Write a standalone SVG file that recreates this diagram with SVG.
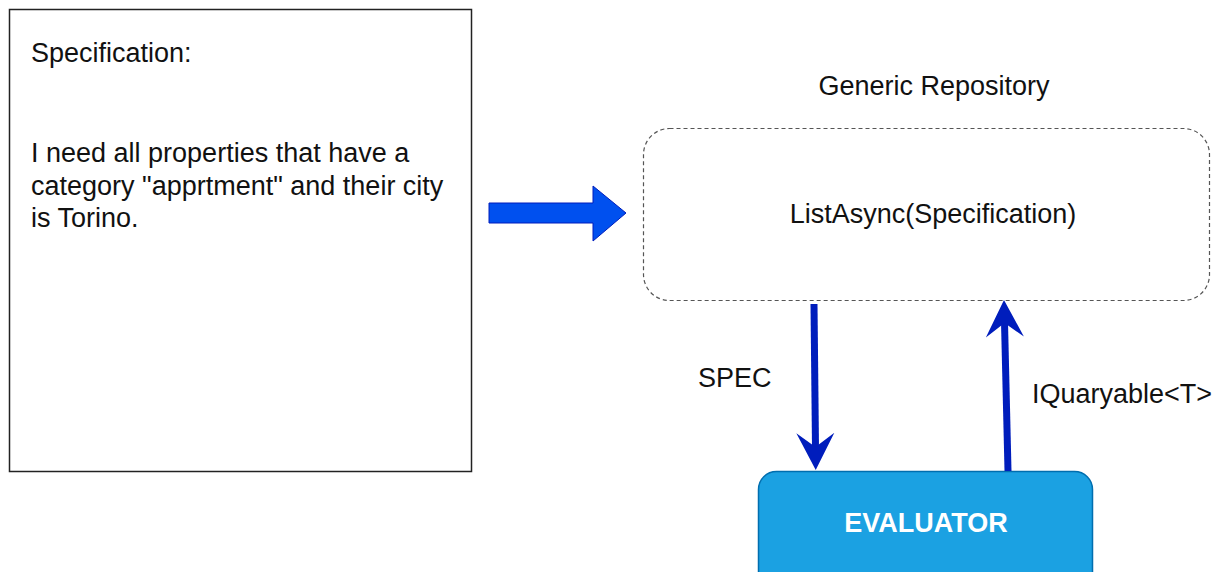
<svg xmlns="http://www.w3.org/2000/svg" width="1222" height="572" viewBox="0 0 1222 572">
  <style>
    .txt { font-family: "Liberation Sans", Arial, Helvetica, sans-serif; font-size: 27px; fill: #111; }
    .mid { text-anchor: middle; }
    .bold { font-weight: bold; fill: #ffffff; }
    .flow { stroke: #001DBC; stroke-width: 7; fill: none; }
  </style>
  <defs>
    <!-- classic arrowhead; the line ends at the notch -->
    <marker id="head" markerUnits="userSpaceOnUse" markerWidth="40" markerHeight="40" viewBox="0 0 40 40" refX="16" refY="20" orient="auto">
      <path d="M38,20 L1,1 L15,20 L1,39 Z" fill="#001DBC"/>
    </marker>
  </defs>

  <rect width="1222" height="572" fill="#ffffff"/>

  <!-- Specification note -->
  <g id="spec-note">
    <rect x="9.5" y="9.5" width="462" height="462" fill="#ffffff" stroke="#222" stroke-width="1.5"/>
    <text class="txt" x="31" y="62">Specification:</text>
    <text class="txt" x="31" y="162">I need all properties that have a</text>
    <text class="txt" x="31" y="194.5">category "apprtment" and their city</text>
    <text class="txt" x="31" y="227">is Torino.</text>
  </g>

  <!-- Generic repository -->
  <g id="repository">
    <text class="txt mid" x="934" y="95">Generic Repository</text>
    <rect x="643.5" y="128.5" width="566" height="172" rx="26" ry="26" fill="#ffffff" stroke="#555" stroke-width="1.2" stroke-dasharray="4 3"/>
    <text class="txt mid" x="933" y="223">ListAsync(Specification)</text>
  </g>

  <!-- Evaluator -->
  <g id="evaluator">
    <rect x="758.5" y="471.5" width="334" height="130" rx="18" ry="18" fill="#1ba1e2" stroke="#006EAF" stroke-width="1.5"/>
    <text class="txt mid bold" x="926" y="532">EVALUATOR</text>
  </g>

  <!-- Connectors -->
  <g id="connectors">
    <path d="M489,203 L593,203 L593,186 L626,213 L593,241 L593,223 L489,223 Z" fill="#0050ef" stroke="#001DBC" stroke-width="1"/>
    <line class="flow" x1="814" y1="304" x2="815.5" y2="448" marker-end="url(#head)"/>
    <line class="flow" x1="1008" y1="471" x2="1004.5" y2="322" marker-end="url(#head)"/>
    <text class="txt" x="698" y="387">SPEC</text>
    <text class="txt" x="1032" y="403">IQuaryable&lt;T&gt;</text>
  </g>
</svg>
